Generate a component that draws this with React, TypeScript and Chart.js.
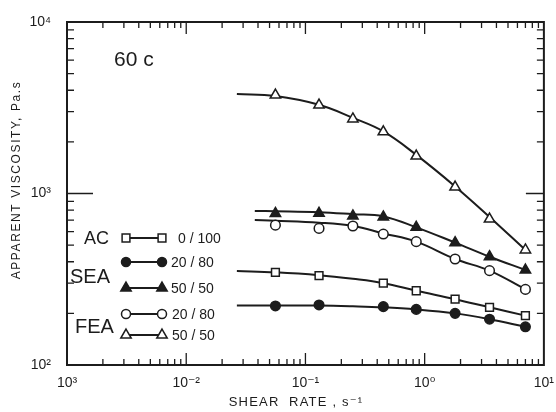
import { useEffect, useRef } from 'react';
import { Chart, registerables } from 'chart.js';

Chart.register(...registerables);

// ---- data ----
const shearRate = [0.056, 0.13, 0.25, 0.45, 0.85, 1.8, 3.5, 7.0];
const acRate = [0.056, 0.13, 0.45, 0.85, 1.8, 3.5, 7.0];
const ac0_100 = [347, 332, 300, 271, 242, 217, 194];
const sea20_80 = [221, 224, 219, 211, 200, 185, 167];
const sea50_50 = [765, 767, 740, 730, 635, 517, 428, 358];
const fea20_80 = [654, 626, 646, 580, 524, 415, 355, 276];
const fea50_50 = [3750, 3280, 2720, 2290, 1654, 1091, 710, 469];

// fitted curves (drawn as solid lines)
const fitRateLong = [0.0266, 0.056, 0.13, 0.25, 0.45, 0.85, 1.8, 3.5, 7.0];
const fitRateShort = [0.0376, 0.056, 0.13, 0.25, 0.45, 0.85, 1.8, 3.5, 7.0];
const acFit = [353, 347, 334, 318, 300, 271, 242, 217, 194];
const sea20_80Fit = [222, 222, 222, 220, 217, 211, 200, 185, 167];
const sea50_50Fit = [791, 788, 778, 757, 735, 635, 517, 428, 358];
const fea20_80Fit = [700, 694, 676, 646, 585, 524, 415, 355, 276];
const fea50_50Fit = [3800, 3700, 3290, 2760, 2300, 1680, 1100, 730, 469];

const xDecades = [-3, -2, -1, 0];
const yDecades = [2, 3];
const xTickLabels: Record<string, string> = { '-3': '10³', '-2': '10⁻²', '-1': '10⁻¹', '0': '10⁰', '1': '10¹' };
const yTickLabels: Record<string, string> = { '2': '10²', '3': '10³', '4': '10⁴' };

const INK = '#1c1c1c';
const FONT = "'Liberation Sans', 'DejaVu Sans', sans-serif";

const pts = (xs: number[], ys: number[]) => ys.map((v, i) => ({ x: xs[i], y: v }));

function drawMarker(ctx: CanvasRenderingContext2D, style: string, filled: boolean, x: number, y: number) {
  ctx.beginPath();
  if (style === 'rect') {
    const s = 3.9;
    ctx.rect(x - s, y - s, 2 * s, 2 * s);
  } else if (style === 'circle') {
    ctx.arc(x, y, 4.5, 0, Math.PI * 2);
  } else {
    const r = 6;
    for (let k = 0; k < 3; k++) {
      const a = (k * 2 * Math.PI) / 3;
      const px = x + Math.sin(a) * r;
      const py = y - Math.cos(a) * r;
      if (k === 0) ctx.moveTo(px, py);
      else ctx.lineTo(px, py);
    }
    ctx.closePath();
  }
  ctx.fillStyle = filled ? INK : '#fff';
  ctx.fill();
  ctx.lineWidth = 1.5;
  ctx.strokeStyle = INK;
  ctx.stroke();
}

const decoPlugin = {
  id: 'deco',
  afterDatasetsDraw(chart: any) {
    const { ctx, chartArea: a, scales } = chart;
    const xs = scales.x;
    const ys = scales.y;
    ctx.save();
    // frame
    ctx.strokeStyle = INK;
    ctx.lineWidth = 2;
    ctx.strokeRect(a.left, a.top, a.right - a.left, a.bottom - a.top);
    // x ticks (bottom and top, pointing inward)
    ctx.lineWidth = 1.3;
    xDecades.forEach((d) => {
      for (let m = 1; m <= 9; m++) {
        if (d === -3 && m === 1) continue;
        const px = xs.getPixelForValue(m * Math.pow(10, d));
        const len = m === 1 ? 12 : 6;
        ctx.beginPath();
        ctx.moveTo(px, a.bottom);
        ctx.lineTo(px, a.bottom - len);
        ctx.moveTo(px, a.top);
        ctx.lineTo(px, a.top + len);
        ctx.stroke();
      }
    });
    // y ticks (left and right)
    yDecades.forEach((d) => {
      for (let m = 1; m <= 9; m++) {
        if (d === 2 && m === 1) continue;
        const py = ys.getPixelForValue(m * Math.pow(10, d));
        ctx.beginPath();
        ctx.moveTo(a.left, py);
        ctx.lineTo(a.left + (m === 1 ? 26 : 7), py);
        ctx.moveTo(a.right, py);
        ctx.lineTo(a.right - (m === 1 ? 18 : 7), py);
        ctx.stroke();
      }
    });

    ctx.fillStyle = INK;
    ctx.textBaseline = 'middle';
    // temperature label
    ctx.font = `21px ${FONT}`;
    ctx.textAlign = 'left';
    ctx.fillText('60 c', 114, 60);

    // axis titles
    ctx.font = `12px ${FONT}`;
    (ctx as any).letterSpacing = '1.6px';
    ctx.save();
    ctx.translate(17, 180);
    ctx.rotate(-Math.PI / 2);
    ctx.textAlign = 'center';
    ctx.fillText('APPARENT VISCOSITY, Pa.s', 0, 0);
    ctx.restore();
    ctx.font = `13px ${FONT}`;
    (ctx as any).letterSpacing = '1.2px';
    ctx.textAlign = 'center';
    ctx.fillText('SHEAR  RATE , s⁻¹', 296, 402);
    (ctx as any).letterSpacing = '0px';

    // in-plot legend
    const x1 = 126;
    const x2 = 162;
    const rows = [
      { y: 238, style: 'rect', filled: false, label: '0 / 100', lx: 178 },
      { y: 262, style: 'circle', filled: true, label: '20 / 80', lx: 171 },
      { y: 288, style: 'triangle', filled: true, label: '50 / 50', lx: 171 },
      { y: 314, style: 'circle', filled: false, label: '20 / 80', lx: 172 },
      { y: 335, style: 'triangle', filled: false, label: '50 / 50', lx: 172 },
    ];
    rows.forEach((r) => {
      ctx.beginPath();
      ctx.strokeStyle = INK;
      ctx.lineWidth = 2;
      ctx.moveTo(x1, r.y);
      ctx.lineTo(x2, r.y);
      ctx.stroke();
      drawMarker(ctx, r.style, r.filled, x1, r.y);
      drawMarker(ctx, r.style, r.filled, x2, r.y);
      ctx.fillStyle = INK;
      ctx.font = `14px ${FONT}`;
      ctx.textAlign = 'left';
      ctx.fillText(r.label, r.lx, r.y + 1);
    });
    ctx.textAlign = 'left';
    ctx.font = `18px ${FONT}`;
    ctx.fillText('AC', 84, 239);
    ctx.font = `20px ${FONT}`;
    ctx.fillText('SEA', 70, 277);
    ctx.fillText('FEA', 75, 327);
    ctx.restore();
  },
};

export default function App() {
  const ref = useRef<HTMLCanvasElement | null>(null);
  useEffect(() => {
    if (!ref.current) return;
    const fit = (data: { x: number; y: number }[]) => ({
      data,
      showLine: true,
      borderColor: INK,
      borderWidth: 2,
      pointRadius: 0,
      tension: 0.4,
      order: 2,
    });
    const mark = (data: { x: number; y: number }[], style: string, filled: boolean, radius: number) => ({
      data,
      showLine: false,
      pointStyle: style,
      pointRadius: radius,
      pointBorderWidth: 1.5,
      borderColor: INK,
      backgroundColor: filled ? INK : '#ffffff',
      pointBackgroundColor: filled ? INK : '#ffffff',
      pointBorderColor: INK,
      order: 1,
    });
    const chart = new Chart(ref.current, {
      type: 'line',
      data: {
        datasets: [
          mark(pts(acRate, ac0_100), 'rect', false, 5.5),
          mark(pts(acRate, sea20_80), 'circle', true, 4.8),
          mark(pts(shearRate, sea50_50), 'triangle', true, 6),
          mark(pts(shearRate, fea20_80), 'circle', false, 4.8),
          mark(pts(shearRate, fea50_50), 'triangle', false, 6),
          fit(pts(fitRateLong, acFit)),
          fit(pts(fitRateLong, sea20_80Fit)),
          fit(pts(fitRateShort, sea50_50Fit)),
          fit(pts(fitRateShort, fea20_80Fit)),
          fit(pts(fitRateLong, fea50_50Fit)),
        ] as any,
      },
      options: {
        responsive: false,
        animation: false,
        layout: { padding: { left: 0, right: 9, top: 22, bottom: 0 } },
        plugins: { legend: { display: false }, tooltip: { enabled: false } },
        scales: {
          x: {
            type: 'logarithmic',
            min: 0.001,
            max: 10,
            grid: { display: false },
            border: { display: false },
            afterFit: (s: any) => {
              s.height = 47;
            },
            ticks: {
              autoSkip: false,
              maxRotation: 0,
              padding: 2,
              color: INK,
              font: { family: FONT, size: 14 },
              callback: (v: any) => {
                const l = Math.log10(Number(v));
                const r = Math.round(l);
                return Math.abs(l - r) < 1e-6 ? xTickLabels[String(r)] ?? '' : '';
              },
            },
          },
          y: {
            type: 'logarithmic',
            min: 100,
            max: 10000,
            grid: { display: false },
            border: { display: false },
            afterFit: (s: any) => {
              s.width = 67;
            },
            ticks: {
              autoSkip: false,
              padding: 8,
              color: INK,
              font: { family: FONT, size: 14 },
              callback: (v: any) => {
                const l = Math.log10(Number(v));
                const r = Math.round(l);
                return Math.abs(l - r) < 1e-6 ? yTickLabels[String(r)] ?? '' : '';
              },
            },
          },
        },
      } as any,
      plugins: [decoPlugin],
    });
    return () => chart.destroy();
  }, []);
  return (
    <div style={{ position: 'fixed', left: 0, top: 0, width: 556, height: 412, background: '#fff' }}>
      <canvas ref={ref} width={556} height={412} />
    </div>
  );
}
